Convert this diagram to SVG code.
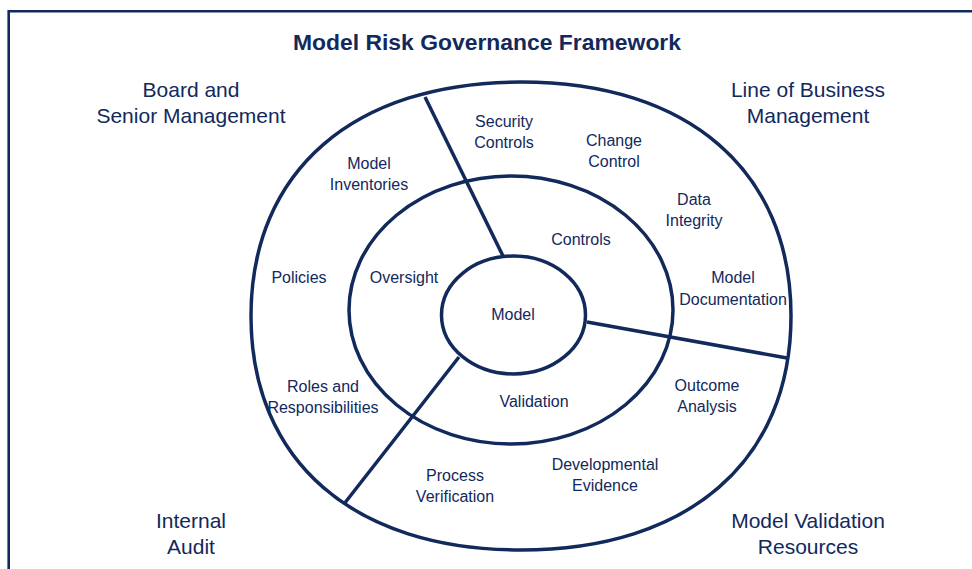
<svg xmlns="http://www.w3.org/2000/svg" width="972" height="569" viewBox="0 0 972 569">
<style>
.ring{fill:none;stroke:#12295c;stroke-width:3.5}
.ln{stroke:#12295c;stroke-width:3.5;stroke-linecap:butt}
text{font-family:"Liberation Sans",Arial,sans-serif;fill:#12295c;text-anchor:middle}
.sm{font-size:16px}
.lg{font-size:21px}
.title{font-size:22px;font-weight:bold}
</style>
<rect x="0" y="0" width="972" height="569" fill="#ffffff"/>
<path d="M8.7 569 V11.3 H972" fill="none" stroke="#12295c" stroke-width="2.6"/>
<text class="title" x="487" y="50" textLength="388" lengthAdjust="spacingAndGlyphs">Model Risk Governance Framework</text>
<g id="outer-ring"><path class="ring" d="M791,316 C791,461.1 688.4,550 521,550 C353.6,550 251,461.1 251,316 C251,170.9 353.6,82 521,82 C688.4,82 791,170.9 791,316 Z"/></g>
<g id="middle-ring"><ellipse class="ring" cx="511" cy="310" rx="162" ry="134"/></g>
<g id="connectors">
<line class="ln" x1="425" y1="97" x2="503" y2="256"/>
<line class="ln" x1="587" y1="322" x2="787" y2="358"/>
<line class="ln" x1="459" y1="357" x2="344" y2="504"/>
</g>
<g id="model"><ellipse class="ring" cx="513.5" cy="315" rx="72" ry="59" fill="#ffffff"/><text class="sm" x="513" y="320">Model</text></g>
<g id="board"><text class="lg" x="191" y="97">Board and</text><text class="lg" x="191" y="123">Senior Management</text></g>
<g id="lob"><text class="lg" x="808" y="97">Line of Business</text><text class="lg" x="808" y="123">Management</text></g>
<g id="audit"><text class="lg" x="191" y="528">Internal</text><text class="lg" x="191" y="554">Audit</text></g>
<g id="mvr"><text class="lg" x="808" y="528">Model Validation</text><text class="lg" x="808" y="554">Resources</text></g>
<g id="security-controls"><text class="sm" x="504" y="127">Security</text><text class="sm" x="504" y="148">Controls</text></g>
<g id="change-control"><text class="sm" x="614" y="146">Change</text><text class="sm" x="614" y="167">Control</text></g>
<g id="model-inventories"><text class="sm" x="369" y="169">Model</text><text class="sm" x="369" y="190">Inventories</text></g>
<g id="data-integrity"><text class="sm" x="694" y="205">Data</text><text class="sm" x="694" y="226">Integrity</text></g>
<g id="controls"><text class="sm" x="581" y="245">Controls</text></g>
<g id="policies"><text class="sm" x="299" y="283">Policies</text></g>
<g id="oversight"><text class="sm" x="404" y="283">Oversight</text></g>
<g id="model-documentation"><text class="sm" x="733" y="283">Model</text><text class="sm" x="733" y="305">Documentation</text></g>
<g id="outcome-analysis"><text class="sm" x="707" y="391">Outcome</text><text class="sm" x="707" y="412">Analysis</text></g>
<g id="roles"><text class="sm" x="323" y="392">Roles and</text><text class="sm" x="323" y="413">Responsibilities</text></g>
<g id="validation"><text class="sm" x="534" y="407">Validation</text></g>
<g id="developmental-evidence"><text class="sm" x="605" y="470">Developmental</text><text class="sm" x="605" y="491">Evidence</text></g>
<g id="process-verification"><text class="sm" x="455" y="481">Process</text><text class="sm" x="455" y="502">Verification</text></g>
</svg>
